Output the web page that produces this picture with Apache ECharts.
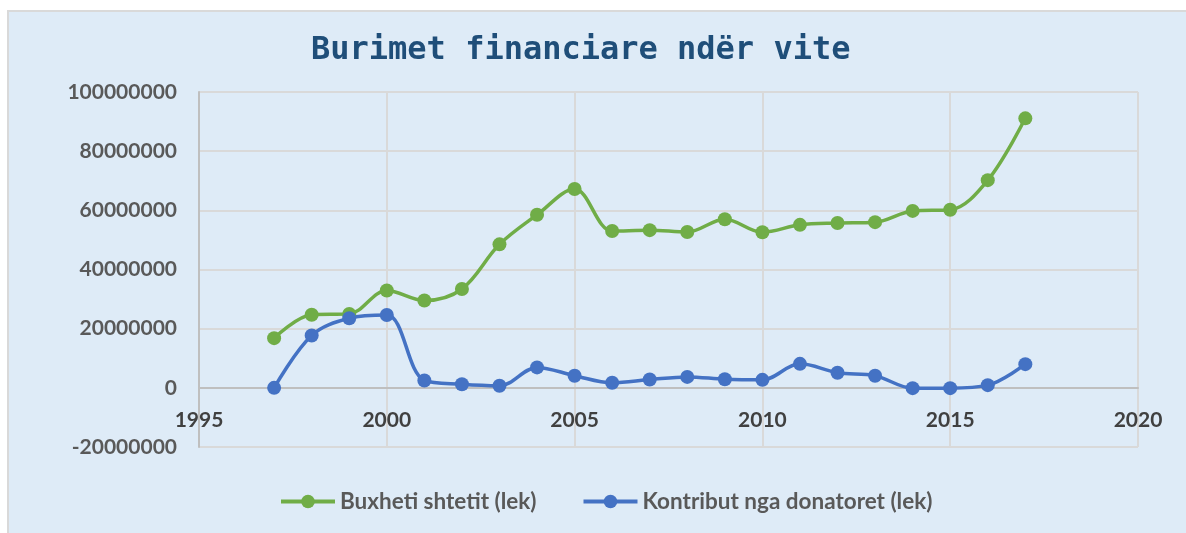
<!DOCTYPE html>
<html>
<head>
<meta charset="utf-8">
<script src="https://cdn.jsdelivr.net/npm/echarts@6/dist/echarts.min.js"></script>
<style>
  html, body { margin: 0; padding: 0; background: #ffffff; }
  #bg { position: absolute; left: 7px; top: 10px; width: 1179px; height: 523px;
        background: #DEEBF7; border-left: 2px solid #D9D9D9; border-top: 2px solid #D9D9D9; box-sizing: border-box; }
  #chart { position: absolute; left: 0; top: 0; width: 1186px; height: 533px; }
</style>
</head>
<body>
<div id="bg"></div>
<div id="chart"></div>
<script>
const titleText = 'Burimet financiare ndër vite';
const years = [1997, 1998, 1999, 2000, 2001, 2002, 2003, 2004, 2005, 2006, 2007,
               2008, 2009, 2010, 2011, 2012, 2013, 2014, 2015, 2016, 2017];
const budgetName = 'Buxheti shtetit (lek)';
const budget = [16800000, 24700000, 25000000, 32900000, 29500000, 33400000, 48500000,
                58500000, 67200000, 53000000, 53300000, 52700000, 57000000, 52600000,
                55100000, 55700000, 56000000, 59800000, 60200000, 70200000, 91100000];
const donorName = 'Kontribut nga donatoret (lek)';
const donors = [0, 17700000, 23500000, 24600000, 2500000, 1200000, 700000,
                6900000, 4100000, 1700000, 2800000, 3700000, 2900000, 2700000,
                8100000, 5100000, 4100000, -100000, -100000, 900000, 8000000];
const xMin = 1995, xMax = 2020, xStep = 5;
const yMin = -20000000, yMax = 100000000, yStep = 20000000;

const W = 1186, H = 533;
const grid = { left: 199, right: 48, top: 92, bottom: 86 };
const plotH = H - grid.top - grid.bottom;
// x axis sits on the zero line (labels follow it)
const zeroOffset = -plotH * (0 - yMin) / (yMax - yMin);

const chart = echarts.init(document.getElementById('chart'), null, { renderer: 'canvas' });
const lab = { fontFamily: 'Lato', fontWeight: 'bold', fontSize: 21 };
chart.setOption({
  backgroundColor: 'transparent',
  animation: false,
  title: {
    text: titleText, left: 311, top: 35, padding: 0,
    textStyle: { fontFamily: 'DejaVu Sans Mono', fontWeight: 'bold', fontSize: 32, color: '#1F4E79' }
  },
  legend: {
    left: 279, top: 490, padding: 0, itemWidth: 54, itemHeight: 17, itemGap: 45,
    textStyle: { fontFamily: 'Lato', fontWeight: 700, fontSize: 22.5, color: '#595959' },
    lineStyle: { width: 4 },
    data: [budgetName, donorName]
  },
  grid: grid,
  xAxis: {
    type: 'value', min: xMin, max: xMax, interval: xStep,
    offset: zeroOffset,
    axisLine: { onZero: false, lineStyle: { color: '#BFBFBF', width: 2 } },
    axisTick: { show: false },
    axisLabel: Object.assign({ color: '#404040', margin: 22, formatter: v => String(v) }, lab),
    splitLine: { show: true, lineStyle: { color: '#D9D9D9', width: 2 } }
  },
  yAxis: {
    type: 'value', min: yMin, max: yMax, interval: yStep,
    axisLine: { show: true, lineStyle: { color: '#BFBFBF', width: 2 } },
    axisTick: { show: false },
    axisLabel: Object.assign({ color: '#595959', margin: 22, formatter: v => String(v) }, lab),
    splitLine: { show: true, lineStyle: { color: '#D9D9D9', width: 2 } }
  },
  series: [
    {
      name: budgetName, type: 'line', smooth: 0.35,
      data: years.map((y, i) => [y, budget[i]]),
      symbol: 'circle', symbolSize: 14,
      lineStyle: { color: '#70AD47', width: 3.5 },
      itemStyle: { color: '#70AD47' }
    },
    {
      name: donorName, type: 'line', smooth: 0.35,
      data: years.map((y, i) => [y, donors[i]]),
      symbol: 'circle', symbolSize: 14,
      lineStyle: { color: '#4472C4', width: 3.5 },
      itemStyle: { color: '#4472C4' }
    }
  ]
});
</script>
</body>
</html>
